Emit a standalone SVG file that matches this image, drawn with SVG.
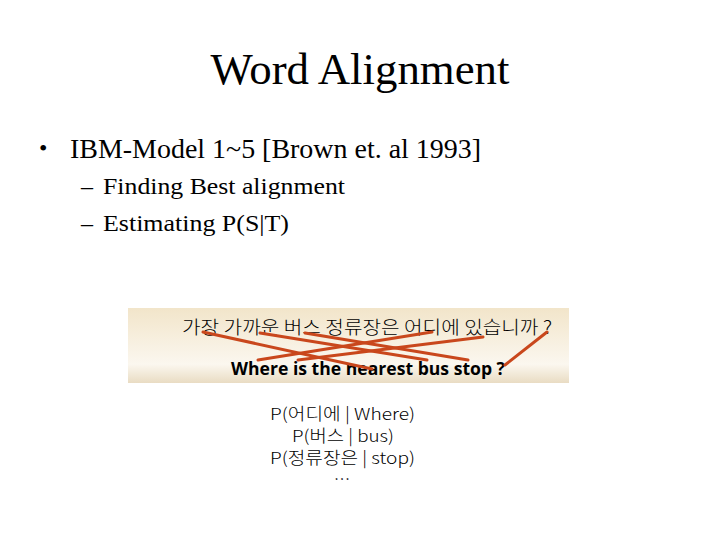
<svg xmlns="http://www.w3.org/2000/svg" width="720" height="540" viewBox="0 0 720 540">
<defs>
<linearGradient id="bg" x1="0" y1="0" x2="0" y2="1">
<stop offset="0" stop-color="#f2e5ca"/>
<stop offset="0.75" stop-color="#fbf7ef"/>
<stop offset="1" stop-color="#e9dcc3"/>
</linearGradient>
<style>
.serif{font-family:"Liberation Serif","Times New Roman",serif;fill:#000}
.ko{font-family:"Noto Sans CJK KR","Noto Sans",sans-serif;font-weight:300;fill:#000}
.en{font-family:"Open Sans","Noto Sans",sans-serif;font-weight:bold;fill:#000}
.align{stroke:#c9471c;stroke-width:3;stroke-linecap:round;fill:none}
</style>
</defs>
<rect width="720" height="540" fill="#ffffff"/>
<g id="title"><text class="serif" x="360" y="84" font-size="44" text-anchor="middle" textLength="299" lengthAdjust="spacingAndGlyphs">Word Alignment</text></g>
<g id="bullets">
<text class="serif" x="39" y="156" font-size="24">•</text>
<text class="serif" x="70" y="158" font-size="28" textLength="411" lengthAdjust="spacingAndGlyphs">IBM-Model 1~5 [Brown et. al 1993]</text>
<text class="serif" x="81" y="194" font-size="24">–</text>
<text class="serif" x="103" y="194" font-size="24" textLength="242" lengthAdjust="spacingAndGlyphs">Finding Best alignment</text>
<text class="serif" x="81" y="231" font-size="24">–</text>
<text class="serif" x="103" y="231" font-size="24" textLength="186" lengthAdjust="spacingAndGlyphs">Estimating P(S|T)</text>
</g>
<g id="panel">
<rect x="128" y="308" width="441" height="75" fill="url(#bg)"/>
<text class="ko" x="182" y="334" font-size="18" textLength="370" lengthAdjust="spacingAndGlyphs">가장 가까운 버스 정류장은 어디에 있습니까 ?</text>
<text class="en" x="231" y="375" font-size="17" textLength="274" lengthAdjust="spacingAndGlyphs">Where is the nearest bus stop ?</text>
</g>
<g id="connectors">
<line class="align" x1="203" y1="332" x2="372" y2="369"/>
<line class="align" x1="260" y1="333" x2="427" y2="360"/>
<line class="align" x1="305" y1="333" x2="468" y2="360"/>
<line class="align" x1="432" y1="332" x2="258" y2="360"/>
<line class="align" x1="483" y1="337" x2="298" y2="360"/>
<line class="align" x1="547" y1="332" x2="505" y2="365"/>
</g>
<g id="probs">
<text class="ko" x="270" y="420" font-size="16.5" textLength="145" lengthAdjust="spacingAndGlyphs">P(어디에 | Where)</text>
<text class="ko" x="292" y="442" font-size="16.5" textLength="102" lengthAdjust="spacingAndGlyphs">P(버스 | bus)</text>
<text class="ko" x="270" y="464" font-size="16.5" textLength="145" lengthAdjust="spacingAndGlyphs">P(정류장은 | stop)</text>
<text class="ko" x="342" y="486" font-size="16.5" text-anchor="middle">…</text>
</g>
</svg>
